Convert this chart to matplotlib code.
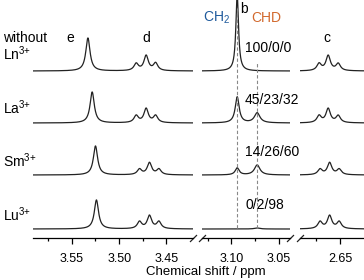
import numpy as np
import matplotlib.pyplot as plt
from matplotlib.ticker import FixedLocator

plt.rcParams['font.family'] = ['Liberation Sans', 'DejaVu Sans']
plt.rcParams['mathtext.fontset'] = 'custom'
plt.rcParams['mathtext.rm'] = 'Liberation Sans'

# Peak tables (ppm, height in px above baseline)
samples = ['without\nLn$^{\\mathregular{3{+}}}$', 'La$^{\\mathregular{3{+}}}$',
           'Sm$^{\\mathregular{3{+}}}$', 'Lu$^{\\mathregular{3{+}}}$']
ratios = ['100/0/0', '45/23/32', '14/26/60', '0/2/98']

e_pos = [3.533, 3.5285, 3.525, 3.524]
e_h = [33, 31, 29, 29]

d_pos = [[3.482, 3.4715, 3.4615], [3.482, 3.4715, 3.4615],
         [3.4785, 3.468, 3.458], [3.4785, 3.468, 3.458]]
d_h = [[7, 15, 7.5], [7, 14, 7], [5.5, 12, 5.5], [7, 13, 7]]

ch2_pos = 3.094
chd_pos = 3.073
ch2_h = [76, 26, 7, 0]
chd_h = [0, 10, 10, 1]

c_pos = [[2.672, 2.6625, 2.652], [2.672, 2.6625, 2.652],
         [2.671, 2.661, 2.651], [2.671, 2.661, 2.651]]
c_h = [[7, 15, 7], [7, 14, 7], [5.5, 12, 5.5], [7, 13, 7]]

# layout
W, H = 364, 280
base = [167, 115, 63, 9]


def lor(x, x0, h, g):
    return h * g**2 / ((x - x0)**2 + g**2)


fig = plt.figure(figsize=(W / 100, H / 100), dpi=100)
spans = [(33, 193, 3.591, 3.422), (202, 290, 3.131, 3.0385), (300, 364, 2.692, 2.625)]
axes = []
for (p0, p1, x0, x1) in spans:
    ax = fig.add_axes([p0 / W, 42 / H, (p1 - p0) / W, 238 / H])
    ax.set_xlim(x0, x1)
    ax.set_ylim(0, 238)
    for s in ['top', 'left', 'right']:
        ax.spines[s].set_visible(False)
    ax.spines['bottom'].set_linewidth(0.9)
    ax.set_yticks([])
    ax.patch.set_alpha(0)
    ax.tick_params(axis='x', which='major', direction='out', length=4, width=0.9,
                   labelsize=9, pad=7)
    ax.tick_params(axis='x', which='minor', direction='out', length=2.5, width=0.9)
    axes.append(ax)

axes[0].xaxis.set_major_locator(FixedLocator([3.55, 3.50, 3.45]))
axes[0].xaxis.set_minor_locator(FixedLocator([3.575, 3.525, 3.475]))
axes[0].set_xticklabels(['3.55', '3.50', '3.45'])
axes[1].xaxis.set_major_locator(FixedLocator([3.10, 3.05]))
axes[1].xaxis.set_minor_locator(FixedLocator([3.125, 3.075]))
axes[1].set_xticklabels(['3.10', '3.05'])
axes[2].xaxis.set_major_locator(FixedLocator([2.65]))
axes[2].xaxis.set_minor_locator(FixedLocator([2.675]))
axes[2].set_xticklabels(['2.65'])

lc = '#222222'
for i in range(4):
    x = np.linspace(3.591, 3.422, 800)
    y = lor(x, e_pos[i], e_h[i], 0.0027)
    for p, h in zip(d_pos[i], d_h[i]):
        y += lor(x, p, h, 0.0028)
    axes[0].plot(x, y + base[i], color=lc, lw=0.9)

    x = np.linspace(3.131, 3.0385, 600)
    y = lor(x, ch2_pos, ch2_h[i], 0.0017 if i == 0 else 0.0025)
    y += lor(x, chd_pos, chd_h[i], 0.0035)
    axes[1].plot(x, y + base[i], color=lc, lw=0.9)

    x = np.linspace(2.692, 2.625, 500)
    y = np.zeros_like(x)
    for p, h in zip(c_pos[i], c_h[i]):
        y += lor(x, p, h, 0.0028)
    axes[2].plot(x, y + base[i], color=lc, lw=0.9)

# dashed guide lines at CH2 and CHD
axes[1].plot([ch2_pos, ch2_pos], [10, 232], color='#888888', lw=0.8, ls=(0, (3, 2)))
axes[1].plot([chd_pos, chd_pos], [10, 175], color='#888888', lw=0.8, ls=(0, (3, 2)))

# break marks
mk = dict(marker=[(-1, -1), (1, 1)], markersize=5, linestyle='none',
          color=lc, mec=lc, mew=0.9, clip_on=False)
axes[0].plot([1], [0], transform=axes[0].transAxes, **mk)
axes[1].plot([0, 1], [0, 0], transform=axes[1].transAxes, **mk)
axes[2].plot([0], [0], transform=axes[2].transAxes, **mk)


def ftext(px, py, s, **kw):
    fig.text(px / W, 1 - py / H, s, **kw)


fs = 10
ftext(3, 47, samples[0], fontsize=fs, va='center', ha='left', linespacing=0.95)
ftext(3, 108, samples[1], fontsize=fs, va='center', ha='left')
ftext(3, 161, samples[2], fontsize=fs, va='center', ha='left')
ftext(3, 215, samples[3], fontsize=fs, va='center', ha='left')

ftext(70, 38, 'e', fontsize=fs, ha='center', va='center')
ftext(146, 38, 'd', fontsize=fs, ha='center', va='center')
ftext(327, 38, 'c', fontsize=fs, ha='center', va='center')
ftext(244, 9, 'b', fontsize=fs, ha='center', va='center')
ftext(217, 18, 'CH$_{\\mathregular{2}}$', fontsize=fs, ha='center', va='center',
      color='#1f5a9c')
ftext(266, 18, 'CHD', fontsize=fs, ha='center', va='center', color='#d2692d')

for py, r in zip([48, 100, 152, 205], ratios):
    ftext(245, py, r, fontsize=fs, ha='left', va='center')

ftext(206, 272, 'Chemical shift / ppm', fontsize=9.5, ha='center', va='center')

fig.savefig('out.png', dpi=100)
